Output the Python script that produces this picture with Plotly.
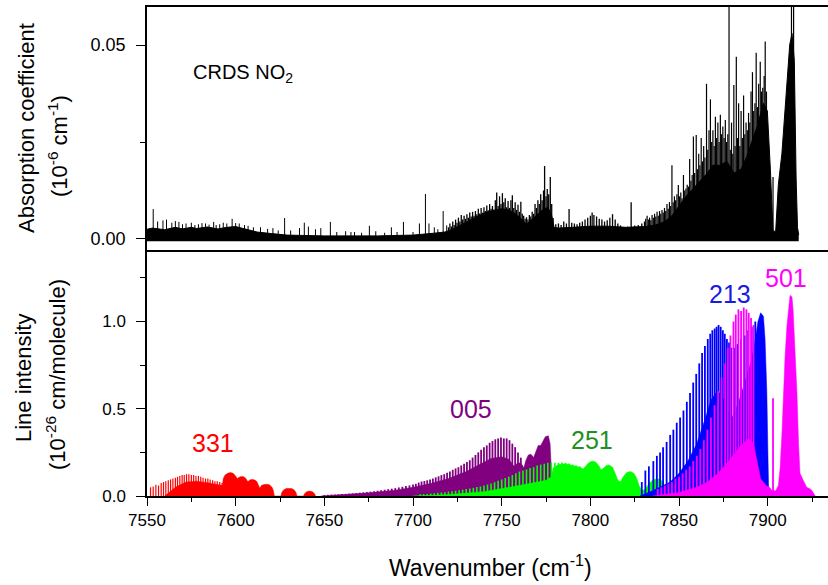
import plotly.graph_objects as go

# ---------------- data ----------------
# Top panel: CRDS absorption spectrum (10^-6 cm^-1) -- dense absorption floor
abs_env_x = [7550, 7553, 7560, 7566, 7570, 7575, 7578, 7584, 7590, 7595, 7600, 7604, 7608, 7612,
             7620, 7629, 7650, 7680, 7700, 7706, 7712, 7718, 7722, 7726, 7730, 7734, 7738, 7742,
             7746, 7750, 7754, 7758, 7761, 7764, 7767, 7770, 7773, 7776, 7778, 7779.5, 7782, 7790,
             7800, 7810, 7820, 7830, 7836, 7842, 7846, 7850, 7854, 7858, 7862, 7866, 7869, 7873,
             7877, 7881, 7885, 7888, 7891, 7894, 7897.6, 7899.8, 7901.5, 7903, 7904.5, 7906, 7908,
             7910, 7911, 7912.4, 7913.7, 7915, 7916, 7916.8, 7917.5]
abs_env_y = [0.0025, 0.0028, 0.0024, 0.0030, 0.0026, 0.0030, 0.0027, 0.0031, 0.0026, 0.0030, 0.0032,
             0.0027, 0.0024, 0.0018, 0.0014, 0.0010, 0.0008, 0.0008, 0.0010, 0.0012, 0.0015, 0.0018,
             0.0024, 0.0034, 0.0044, 0.0052, 0.0062, 0.0070, 0.0075, 0.0078, 0.0075, 0.0065, 0.0052,
             0.0038, 0.0050, 0.0062, 0.0075, 0.0082, 0.0065, 0.0030, 0.0028, 0.0030, 0.0033, 0.0033,
             0.0030, 0.0032, 0.0035, 0.0045, 0.0060, 0.0085, 0.0110, 0.0130, 0.0150, 0.0170, 0.0190,
             0.0190, 0.0200, 0.0170, 0.0180, 0.0210, 0.0250, 0.0290, 0.0350, 0.0330, 0.0180, 0.0020,
             0.0020, 0.0140, 0.0220, 0.0350, 0.0420, 0.0500, 0.0530, 0.0460, 0.0160, 0.0030, 0.0010]
abs_noise_floor = -0.0006

# individual absorption peaks (wavenumber, absorption)
abs_peaks_low = [
    (7553.5, .0077), (7556, .0045), (7559, .0048), (7561, .0050), (7564, .0042), (7566, .0046),
    (7568, .0044), (7570, .0038), (7572, .0040), (7575, .0042), (7577, .0036), (7579, .0038),
    (7581, .0041), (7583, .0040), (7585, .0037), (7587.6, .0044), (7589, .0036), (7591, .0038),
    (7593, .0042), (7595, .0040), (7598, .0052), (7600, .0041), (7602, .0040), (7605, .0036),
    (7607, .0034), (7610, .0030), (7614, .0030), (7618, .0026), (7621, .0028), (7624, .0022),
    (7627.6, .0054), (7631, .0022), (7636, .0028), (7638.7, .0042), (7641, .0032), (7645, .0025),
    (7648, .0028), (7653.4, .0044), (7657, .0018), (7662, .0020), (7665, .0018), (7667, .0018),
    (7671, .0016), (7675.4, .0034), (7679, .0020), (7684, .0016), (7687.8, .0030), (7691, .0018),
    (7694.6, .0044), (7700, .0018), (7703.6, .0040), (7707, .0116), (7709, .0040), (7712, .0030),
    (7714, .0025), (7717, .0072), (7719, .0035)]
abs_peaks_mid = [
    (7720.0, .0030), (7720.8, .0040), (7721.6, .0032), (7722.4, .0045), (7723.2, .0036),
    (7724.0, .0050), (7724.8, .0042), (7725.6, .0055), (7726.4, .0045), (7727.2, .0062),
    (7728.0, .0050), (7728.8, .0060), (7729.6, .0052), (7730.4, .0064), (7731.2, .0055),
    (7732.0, .0068), (7732.8, .0058), (7733.6, .0070), (7734.4, .0060), (7735.2, .0072),
    (7736.0, .0064), (7736.8, .0078), (7737.6, .0066), (7738.4, .0080), (7739.2, .0068),
    (7740.0, .0082), (7740.8, .0072), (7741.6, .0086), (7742.4, .0074), (7743.2, .0090),
    (7744.0, .0078), (7744.8, .0085), (7745.6, .0076), (7746.4, .0100), (7747.2, .0120),
    (7748.0, .0085), (7748.8, .0110), (7749.6, .0090), (7750.4, .0118), (7751.2, .0095),
    (7752.0, .0105), (7752.8, .0082), (7753.6, .0098), (7754.4, .0080), (7755.2, .0100),
    (7756.0, .0113), (7756.8, .0080), (7757.6, .0095), (7758.4, .0075), (7759.2, .0088),
    (7760.0, .0070), (7760.8, .0096), (7761.6, .0065), (7762.4, .0060), (7763.2, .0052),
    (7764.0, .0056), (7764.8, .0050), (7765.6, .0062), (7766.4, .0058), (7767.2, .0070),
    (7768.0, .0065), (7768.8, .0090), (7769.6, .0080), (7770.4, .0100), (7771.2, .0090),
    (7772.0, .0115), (7772.8, .0100), (7773.6, .0125), (7774.2, .0188), (7775.0, .0110),
    (7775.7, .0129), (7776.5, .0115), (7777.4, .0160), (7778.2, .0090), (7779.0, .0054),
    (7780.5, .0038), (7782, .0040), (7783.5, .0036), (7785, .0045), (7786.5, .0040),
    (7788, .0077), (7789.5, .0042), (7791, .0040), (7792.5, .0038), (7794, .0042),
    (7795.5, .0045), (7797, .0050), (7798.5, .0055), (7800, .0060), (7801, .0068),
    (7802, .0062), (7803.5, .0058), (7805, .0052), (7806.5, .0050), (7808, .0045),
    (7809.5, .0048), (7811, .0055), (7812.5, .0064), (7814, .0050), (7815.5, .0040),
    (7817, .0035), (7819, .0030), (7821, .0032), (7823, .0095), (7825, .0035), (7827, .0036),
    (7829, .0040)]
abs_peaks_high = [
    (7830.5, .0045), (7831.2, .0052), (7832.0, .0060), (7832.7, .0050), (7833.4, .0055),
    (7834.1, .0048), (7834.8, .0062), (7835.5, .0055), (7836.2, .0065), (7836.9, .0058),
    (7837.6, .0070), (7838.3, .0060), (7839.0, .0072), (7839.7, .0065), (7840.4, .0075),
    (7841.1, .0068), (7841.8, .0080), (7842.5, .0072), (7843.2, .0090), (7843.9, .0078),
    (7844.6, .0095), (7845.3, .0085), (7846.0, .0190), (7846.7, .0095), (7847.4, .0110),
    (7848.1, .0100), (7848.8, .0115), (7849.6, .0139), (7850.3, .0110), (7851.0, .0120),
    (7851.7, .0105), (7852.5, .0165), (7853.2, .0125), (7853.9, .0130), (7854.6, .0140),
    (7855.3, .0135), (7856.0, .0206), (7856.7, .0150), (7857.4, .0165), (7858.1, .0264),
    (7858.8, .0170), (7859.7, .0268), (7860.4, .0180), (7861.1, .0220), (7861.8, .0190),
    (7862.5, .0260), (7863.2, .0200), (7863.9, .0240), (7864.6, .0210), (7865.5, .0400),
    (7866.2, .0230), (7866.9, .0280), (7867.7, .0360), (7868.4, .0250), (7869.1, .0280),
    (7869.8, .0240), (7870.5, .0315), (7871.2, .0260), (7871.9, .0300), (7872.6, .0250),
    (7873.3, .0320), (7874.0, .0270), (7874.7, .0290), (7875.4, .0260), (7876.1, .0307),
    (7876.8, .0250), (7877.5, .0270), (7878.2, .0700), (7878.9, .0230), (7879.6, .0300),
    (7880.3, .0220), (7880.9, .0397), (7881.6, .0240), (7882.3, .0470), (7883.0, .0260),
    (7883.6, .0350), (7884.3, .0240), (7885.0, .0330), (7885.7, .0260), (7886.4, .0370),
    (7887.1, .0270), (7887.8, .0300), (7888.5, .0280), (7889.2, .0325), (7889.9, .0300),
    (7890.6, .0380), (7891.4, .0430), (7892.1, .0330), (7892.8, .0350), (7893.5, .0480),
    (7894.2, .0340), (7894.9, .0400), (7895.8, .0457), (7896.5, .0380), (7897.2, .0390),
    (7898.0, .0420), (7898.6, .0509), (7899.3, .0380), (7901, .0160), (7903, .0160),
    (7913.4, .0700), (7914.6, .0700)]

# Bottom panel: line intensities (10^-26 cm/molecule), by band
b331_x = [7552, 7553.5, 7555, 7556.5, 7558, 7559.3, 7560.6, 7562, 7563.3, 7564.6, 7566, 7567.2,
          7568.5, 7569.8, 7571, 7572.3, 7573.6, 7575, 7576.3, 7577.6, 7579, 7580.3, 7581.6, 7583,
          7584.3, 7585.6, 7587, 7588.3, 7589.6, 7591, 7592.3]
b331_y = [0.05, 0.055, 0.065, 0.06, 0.075, 0.08, 0.085, 0.09, 0.095, 0.10, 0.105, 0.11, 0.115, 0.12,
          0.12, 0.125, 0.125, 0.12, 0.12, 0.115, 0.115, 0.11, 0.105, 0.10, 0.10, 0.095, 0.09, 0.085,
          0.085, 0.08, 0.075]
b331_env_x = [7560, 7566, 7572, 7578, 7585, 7592.5, 7593, 7594, 7595.5, 7597, 7598.5, 7600, 7600.8,
              7601.5, 7602.5, 7603.5, 7604.5, 7605.8, 7606.6, 7607.2, 7608.2, 7609.5, 7610.8, 7612,
              7612.8, 7613.6, 7614.5, 7616, 7617.5, 7619, 7620.5, 7621.3, 7621.8, 7625.5, 7626, 7627,
              7628.5, 7630, 7631.5, 7633, 7634, 7634.6, 7638.3, 7638.8, 7640, 7641.7, 7643.3, 7644.5,
              7645]
b331_env_y = [0.0, 0.05, 0.08, 0.085, 0.075, 0.06, 0.10, 0.12, 0.13, 0.135, 0.13, 0.115, 0.10, 0.105,
              0.11, 0.112, 0.11, 0.10, 0.085, 0.085, 0.093, 0.095, 0.092, 0.082, 0.06, 0.045, 0.06,
              0.066, 0.067, 0.064, 0.05, 0.03, 0.0, 0.0, 0.02, 0.035, 0.043, 0.045, 0.043, 0.035, 0.02,
              0.0, 0.0, 0.013, 0.024, 0.028, 0.024, 0.013, 0.0]

b005_x = [7650, 7652, 7654, 7656, 7658, 7660, 7662, 7664, 7666, 7668, 7670, 7672, 7674, 7676, 7678,
          7680, 7682, 7684, 7686, 7688, 7690, 7692, 7694, 7696, 7698, 7700, 7701.6, 7703.2, 7704.8,
          7706.4, 7708, 7709.6, 7711.2, 7712.8, 7714.4, 7716, 7717.6, 7719.2, 7720.8, 7722.4, 7724,
          7725.6, 7727.2, 7728.8, 7730.4, 7732, 7733.6, 7735.2, 7736.8, 7738.4, 7740, 7741.6, 7743.2,
          7744.8, 7746.4, 7748, 7749.6, 7751.2, 7752.8, 7754.4, 7756, 7757.6, 7759.2, 7760.8]
b005_y = [0.006, 0.007, 0.008, 0.009, 0.010, 0.011, 0.012, 0.014, 0.015, 0.017, 0.019, 0.021, 0.023,
          0.025, 0.027, 0.030, 0.033, 0.036, 0.039, 0.042, 0.045, 0.049, 0.053, 0.057, 0.061, 0.066,
          0.070, 0.077, 0.083, 0.086, 0.090, 0.094, 0.100, 0.107, 0.113, 0.120, 0.125, 0.133, 0.140,
          0.150, 0.158, 0.165, 0.175, 0.185, 0.195, 0.205, 0.220, 0.235, 0.250, 0.265, 0.280, 0.290,
          0.305, 0.315, 0.325, 0.330, 0.335, 0.330, 0.330, 0.320, 0.300, 0.280, 0.250, 0.220]
b005_env_x = [7648, 7660, 7675, 7690, 7700, 7710, 7720, 7730, 7738, 7744, 7750, 7754, 7757, 7758.5,
              7760, 7761.5, 7762.5, 7763.5, 7765, 7766.5, 7768, 7769, 7770.6, 7772, 7773, 7774.6,
              7776.3, 7777.3, 7778, 7778.5]
b005_env_y = [0.0, 0.008, 0.018, 0.033, 0.05, 0.072, 0.10, 0.14, 0.185, 0.215, 0.225, 0.21, 0.17,
              0.185, 0.19, 0.18, 0.16, 0.20, 0.235, 0.24, 0.22, 0.25, 0.29, 0.29, 0.31, 0.34, 0.345,
              0.30, 0.15, 0.0]

b251_x = [7704, 7706, 7708, 7710, 7712, 7714, 7716, 7718, 7720, 7722, 7724, 7726, 7728, 7730, 7732,
          7734, 7736, 7738, 7740, 7742, 7744, 7746, 7748, 7750, 7752, 7754, 7756, 7758, 7760, 7762,
          7764, 7766, 7768, 7770, 7772, 7774, 7776, 7778, 7780, 7782, 7784, 7786, 7788, 7790, 7792,
          7794]
b251_y = [0.010, 0.011, 0.012, 0.014, 0.016, 0.018, 0.020, 0.022, 0.025, 0.027, 0.030, 0.033, 0.036,
          0.040, 0.043, 0.047, 0.051, 0.055, 0.060, 0.066, 0.072, 0.079, 0.087, 0.095, 0.103, 0.111,
          0.120, 0.130, 0.140, 0.146, 0.152, 0.160, 0.165, 0.175, 0.180, 0.185, 0.190, 0.192, 0.190,
          0.190, 0.192, 0.190, 0.186, 0.180, 0.175, 0.170]
b251_env_x = [7700, 7720, 7740, 7755, 7765, 7775, 7778, 7779, 7782, 7786, 7790, 7794, 7796, 7797.5,
              7799, 7801, 7803, 7805, 7806, 7807.5, 7809, 7810.5, 7812.5, 7814, 7815.5, 7817, 7818.5,
              7820.5, 7822.6, 7824.5, 7826, 7827.5, 7829, 7831, 7833, 7835, 7837.8, 7840, 7842,
              7843.5, 7845]
b251_env_y = [0.0, 0.008, 0.025, 0.05, 0.07, 0.09, 0.11, 0.16, 0.18, 0.185, 0.175, 0.165, 0.155,
              0.17, 0.19, 0.20, 0.195, 0.17, 0.15, 0.16, 0.175, 0.178, 0.165, 0.13, 0.09, 0.08, 0.11,
              0.135, 0.14, 0.13, 0.105, 0.06, 0.03, 0.04, 0.07, 0.09, 0.10, 0.09, 0.06, 0.02, 0.0]

b213_x = [7829, 7831, 7833, 7835.5, 7837.5, 7839.3, 7841, 7843, 7845, 7846.8, 7848.7, 7850.6, 7852.5,
          7854.4, 7856.2, 7858, 7859.7, 7861.4, 7863, 7864.6, 7866.2, 7867.6, 7868.8, 7870.1, 7871.2,
          7872.3, 7873.5, 7874.7, 7875.8, 7877, 7878.2, 7879.5, 7881, 7883, 7885, 7887, 7889, 7891,
          7893]
b213_y = [0.08, 0.146, 0.17, 0.20, 0.23, 0.25, 0.28, 0.31, 0.35, 0.38, 0.42, 0.45, 0.49, 0.54, 0.59,
          0.65, 0.70, 0.76, 0.82, 0.86, 0.90, 0.93, 0.95, 0.96, 0.97, 0.98, 0.97, 0.95, 0.93, 0.90,
          0.88, 0.85, 0.85, 0.87, 0.90, 0.92, 0.95, 0.97, 1.00]
b213_env_x = [7828, 7835, 7845, 7850, 7855, 7860, 7865, 7868, 7871.5, 7874, 7877, 7880, 7884, 7888,
              7891, 7893, 7894.5, 7896, 7897.6, 7898.5, 7899.5, 7900.2, 7900.6]
b213_env_y = [0.0, 0.03, 0.08, 0.13, 0.20, 0.30, 0.45, 0.55, 0.60, 0.58, 0.50, 0.45, 0.55, 0.68,
              0.78, 0.90, 1.0, 1.05, 1.03, 0.90, 0.60, 0.20, 0.0]

b501_x = [7838, 7840, 7842, 7844, 7846, 7848, 7850, 7852, 7854, 7856, 7858, 7860, 7862, 7864, 7866,
          7868, 7870, 7872, 7874, 7876, 7877.5, 7879, 7880.7, 7882, 7883.5, 7885, 7886.5, 7888,
          7889.3, 7890.6, 7892, 7903]
b501_y = [0.04, 0.05, 0.06, 0.07, 0.08, 0.10, 0.11, 0.13, 0.15, 0.17, 0.20, 0.23, 0.27, 0.32, 0.38,
          0.45, 0.52, 0.60, 0.68, 0.76, 0.85, 0.92, 1.00, 1.04, 1.07, 1.06, 1.08, 1.07, 1.05, 1.02,
          0.98, 0.56]
b501_env_x = [7835, 7850, 7860, 7866, 7872, 7878, 7884, 7889, 7892, 7894, 7896, 7899, 7901, 7902.5,
              7904.5, 7906, 7907, 7908, 7908.8, 7909.8, 7910.8, 7911.8, 7912.6, 7913.7, 7914.3,
              7915.3, 7916.5, 7917.4, 7918.2, 7920, 7922, 7924, 7925, 7926.8]
b501_env_y = [0.0, 0.02, 0.05, 0.08, 0.13, 0.20, 0.28, 0.33, 0.30, 0.20, 0.10, 0.06, 0.05, 0.03, 0.03,
              0.06, 0.16, 0.35, 0.59, 0.80, 0.97, 1.10, 1.15, 1.14, 1.07, 0.85, 0.59, 0.30, 0.13,
              0.09, 0.05, 0.04, 0.03, 0.0]

band_labels = ["331", "005", "251", "213", "501"]

# ---------------- figure ----------------
FONT = "Arial, Liberation Sans, sans-serif"
W, H = 828, 585
ML, MR, MT, MB = 147, 0, 7, 89
PW, PH = W - ML - MR, H - MT - MB


def sticks(xs, ys, base=0.0):
    X, Y = [], []
    for x, y in zip(xs, ys):
        X += [x, x, None]
        Y += [base, y, None]
    return X, Y


def px(x, y):
    return (x - ML) / PW, (H - MB - y) / PH


fig = go.Figure()

# top panel (x2, y2)
fig.add_trace(go.Scatter(x=[abs_env_x[0], abs_env_x[-1]], y=[abs_noise_floor, abs_noise_floor],
                         mode="lines", line=dict(color="black", width=0), xaxis="x2", yaxis="y2",
                         hoverinfo="skip", showlegend=False))
fig.add_trace(go.Scatter(x=abs_env_x, y=abs_env_y, mode="lines", fill="tonexty", fillcolor="black",
                         line=dict(color="black", width=1), xaxis="x2", yaxis="y2",
                         showlegend=False))
for group, wdt in ((abs_peaks_low, 1.0), (abs_peaks_mid, 1.3), (abs_peaks_high, 1.2)):
    gx = [p[0] for p in group]
    gy = [p[1] for p in group]
    sx, sy = sticks(gx, gy)
    fig.add_trace(go.Scatter(x=sx, y=sy, mode="lines", line=dict(color="black", width=wdt),
                             xaxis="x2", yaxis="y2", showlegend=False))

# bottom panel bands
bands = [
    (b331_x, b331_y, b331_env_x, b331_env_y, "#ff0000", 1.2),
    (b005_x, b005_y, b005_env_x, b005_env_y, "#800080", 1.8),
    (b251_x, b251_y, b251_env_x, b251_env_y, "#00ff00", 1.6),
    (b213_x, b213_y, b213_env_x, b213_env_y, "#0000ff", 1.8),
    (b501_x, b501_y, b501_env_x, b501_env_y, "#ff00ff", 1.8),
]
for bx, by, ex, ey, col, wdt in bands:
    fig.add_trace(go.Scatter(x=ex, y=ey, mode="lines", fill="tozeroy", fillcolor=col,
                             line=dict(color=col, width=0.5), showlegend=False))
    sx, sy = sticks(bx, by)
    fig.add_trace(go.Scatter(x=sx, y=sy, mode="lines", line=dict(color=col, width=wdt),
                             showlegend=False))

split = 246 / PH
axis_common = dict(showline=True, linecolor="black", linewidth=1.5, showgrid=False,
                   zeroline=False, ticks="outside", tickcolor="black", tickwidth=1.2)

fig.update_layout(
    width=W, height=H, margin=dict(l=ML, r=MR, t=MT, b=MB),
    paper_bgcolor="white", plot_bgcolor="white",
    font=dict(family=FONT, color="black"),
    xaxis=dict(domain=[0, 1], range=[7550, 7934], dtick=50, ticklen=8,
               minor=dict(dtick=25, ticklen=4, ticks="outside", tickcolor="black"),
               tickfont=dict(size=17), anchor="y", **axis_common),
    yaxis=dict(domain=[0, split], range=[0, 1.41], dtick=0.5, tickformat=".1f", ticklen=9,
               minor=dict(dtick=0.25, ticklen=5, ticks="outside", tickcolor="black"),
               tickfont=dict(size=17), ticklabelstandoff=7, anchor="x", **axis_common),
    xaxis2=dict(domain=[0, 1], matches="x", anchor="y2", showline=True, mirror=True,
                linecolor="black", linewidth=1.5, ticks="", showticklabels=False,
                showgrid=False, zeroline=False),
    yaxis2=dict(domain=[split, 1], range=[-0.00284, 0.0598], tickvals=[0, 0.05],
                ticktext=["0.00", "0.05"], ticklen=9,
                minor=dict(tickvals=[0.025], ticklen=5, ticks="outside", tickcolor="black"),
                tickfont=dict(size=18), ticklabelstandoff=7, anchor="x2", **axis_common),
)

ann = []


def add_text(text, x, y, size, color="black", angle=0):
    ax, ay = px(x, y)
    ann.append(dict(text=text, x=ax, y=ay, xref="paper", yref="paper", showarrow=False,
                    xanchor="center", yanchor="middle", textangle=angle,
                    font=dict(size=size, color=color, family=FONT)))


add_text("Absorption coefficient", 27, 128, 22, angle=-90)
add_text("(10<sup>-6</sup> cm<sup>-1</sup>)", 58, 146, 22, angle=-90)
add_text("Line intensity", 23, 378, 22, angle=-90)
add_text("(10<sup>-26</sup> cm/molecule)", 56, 374, 22, angle=-90)
add_text("Wavenumber (cm<sup>-1</sup>)", 490, 566, 23)
add_text("CRDS NO<sub>2</sub>", 243, 73, 20)
label_pos = [(213, 443), (471, 409), (592, 440), (730, 294), (786, 278)]
label_col = ["#ff0000", "#800080", "#1f8f1f", "#1a1ae0", "#ff00ff"]
for t, (lx, ly), c in zip(band_labels, label_pos, label_col):
    add_text(t, lx, ly, 25, color=c)

fig.update_layout(annotations=ann)
fig.write_html("out.html", config={"displayModeBar": False},
               post_script="document.body.style.margin='0px';")
